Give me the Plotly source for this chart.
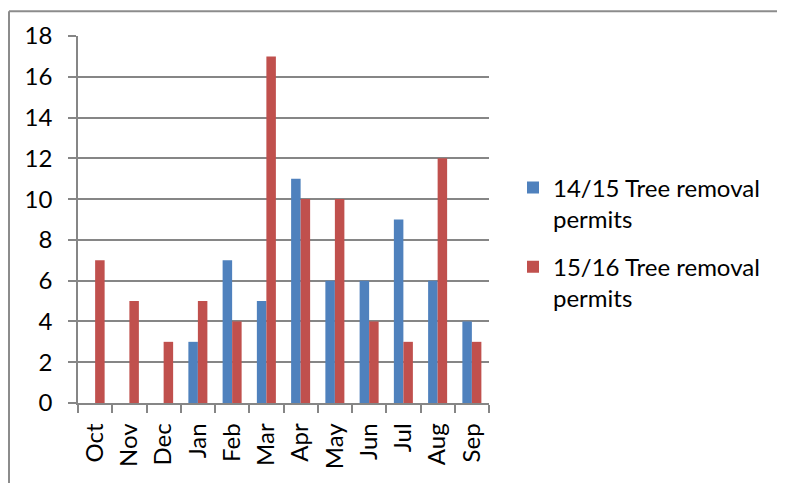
import plotly.graph_objects as go

months = ["Oct", "Nov", "Dec", "Jan", "Feb", "Mar", "Apr", "May", "Jun", "Jul", "Aug", "Sep"]
permits_1415 = [0, 0, 0, 3, 7, 5, 11, 6, 6, 9, 6, 4]
permits_1516 = [7, 5, 3, 5, 4, 17, 10, 10, 4, 3, 12, 3]
series_names = ["14/15 Tree removal<br>permits", "15/16 Tree removal<br>permits"]
y_ticks = list(range(0, 19, 2))

FONT = "Lato, Calibri, Carlito, sans-serif"
FS = 24
GRAY = "#868686"

# page is offset by the 8px body margin
OFF = 8
W, H = 785 - OFF, 483 - OFF
L, R, T, B = 78 - OFF, 489 - OFF, 34 - OFF, 403 - OFF
pw, ph = R - L, B - T

def px_x(v):
    return (v - L) / pw

def px_y(v):
    return (B - v) / ph

fig = go.Figure()
fig.add_trace(go.Bar(x=months, y=permits_1415, name=series_names[0], legendgroup="a",
                     marker=dict(color="#4F81BD", line=dict(width=0))))
fig.add_trace(go.Bar(x=months, y=permits_1516, name=series_names[1], legendgroup="b",
                     marker=dict(color="#C0504D", line=dict(width=0))))

fig.update_layout(
    width=W, height=H,
    margin=dict(l=L, r=W - R, t=T, b=H - B, pad=0),
    paper_bgcolor="white", plot_bgcolor="white",
    barmode="group", bargap=0.445, bargroupgap=0,
    font=dict(family=FONT, size=FS, color="black"),
    showlegend=True,
    legend=dict(x=px_x(505), y=px_y(156), xanchor="left", yanchor="top",
                valign="top", tracegroupgap=14, itemwidth=30,
                font=dict(family=FONT, size=FS, color="black"),
                bgcolor="rgba(0,0,0,0)"),
    xaxis=dict(type="category", showline=True, linecolor=GRAY, linewidth=1.5,
               ticks="outside", tickson="boundaries", ticklen=8, tickcolor=GRAY,
               tickwidth=1.5, tickangle=-90, showgrid=False, zeroline=False,
               ticklabelstandoff=9,
               tickfont=dict(family=FONT, size=FS, color="black"),
               fixedrange=True),
    yaxis=dict(range=[0, 18], tickvals=y_ticks, showline=True, linecolor=GRAY,
               linewidth=1.5, ticks="outside", ticklen=8, tickcolor=GRAY, tickwidth=1.5,
               showgrid=True, gridcolor=GRAY, gridwidth=1.5, zeroline=False,
               ticklabelstandoff=11,
               tickfont=dict(family=FONT, size=FS, color="black"), fixedrange=True),
    shapes=[
        dict(type="line", xref="paper", yref="paper", x0=px_x(1), x1=px_x(W + 5),
             y0=px_y(1), y1=px_y(1), line=dict(color="#8c8c8c", width=2)),
        dict(type="line", xref="paper", yref="paper", x0=px_x(1), x1=px_x(1),
             y0=px_y(1), y1=px_y(H + 5), line=dict(color="#8c8c8c", width=2)),
    ],
)

fig.write_html("out.html")
